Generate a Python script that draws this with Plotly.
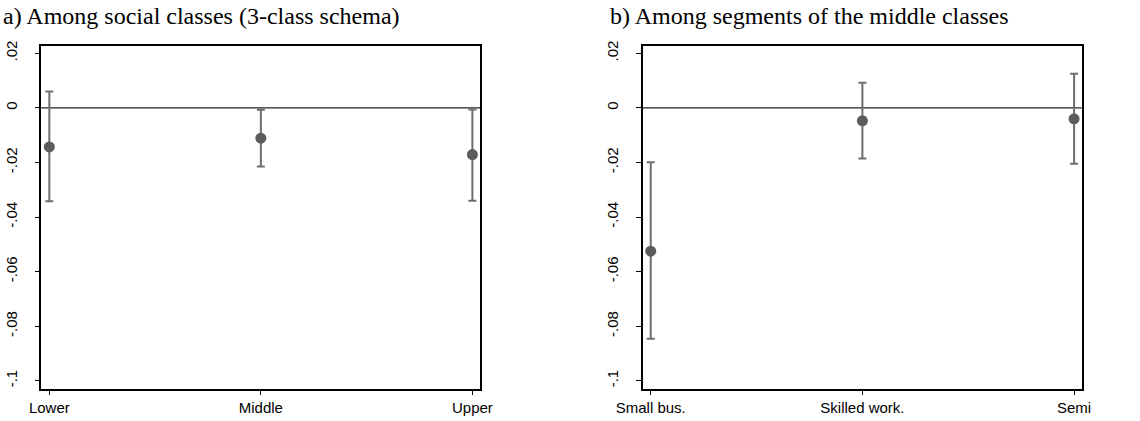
import plotly.graph_objects as go

# Panel a
cats_a = ["Lower", "Middle", "Upper"]
est_a = [-0.0143, -0.0111, -0.0171]
hi_a = [0.0060, -0.0007, -0.0006]
lo_a = [-0.0342, -0.0215, -0.0340]

# Panel b
cats_b = ["Small bus.", "Skilled work.", "Semi"]
est_b = [-0.0525, -0.0047, -0.0040]
hi_b = [-0.0199, 0.0092, 0.0125]
lo_b = [-0.0846, -0.0185, -0.0205]

title_a = "a) Among social classes (3-class schema)"
title_b = "b) Among segments of the middle classes"

yticks = [0.02, 0, -0.02, -0.04, -0.06, -0.08, -0.1]
yticktext = [".02", "0", "-.02", "-.04", "-.06", "-.08", "-.1"]

MARK = "#5c5c5c"
BAR = "#6e6e6e"

fig = go.Figure()

def add_panel(cats, est, hi, lo, xa, ya):
    xs = list(range(1, len(cats) + 1))
    fig.add_trace(go.Scatter(
        x=xs, y=est, mode="markers", xaxis=xa, yaxis=ya,
        marker=dict(color=MARK, size=11),
        error_y=dict(type="data", symmetric=False,
                     array=[h - e for h, e in zip(hi, est)],
                     arrayminus=[e - l for e, l in zip(est, lo)],
                     color=BAR, thickness=2, width=4),
        showlegend=False, hoverinfo="skip"))

add_panel(cats_a, est_a, hi_a, lo_a, "x", "y")
add_panel(cats_b, est_b, hi_b, lo_b, "x2", "y2")

W, H = 1140, 421
ydom = [1 - 388.7 / H, 1 - 45.7 / H]
tickfont = dict(family="Liberation Sans, Arial", size=15, color="black")

def xaxis(dom, cats):
    return dict(domain=dom, range=[0.962, 3.036], tickmode="array",
                tickvals=[1, 2, 3], ticktext=cats, showgrid=False, zeroline=False,
                showline=True, linecolor="black", linewidth=1.5, mirror=True,
                ticks="outside", ticklen=5, tickcolor="black", tickwidth=1,
                tickfont=tickfont, automargin=False)

def yaxis(anchor):
    return dict(domain=ydom, range=[-0.1029, 0.0228], tickmode="array",
                tickvals=yticks, ticktext=yticktext, showgrid=False, zeroline=False,
                showline=True, linecolor="black", linewidth=1.5, mirror=True,
                ticks="outside", ticklen=5, tickcolor="black", tickwidth=1,
                tickangle=-90, tickfont=tickfont, anchor=anchor, automargin=False,
                ticklabelstandoff=12)

fig.update_layout(
    width=W, height=H, margin=dict(l=0, r=0, t=0, b=0, autoexpand=False),
    paper_bgcolor="white", plot_bgcolor="white",
    xaxis=dict(xaxis([41.3 / W, 480 / W], cats_a), anchor="y"),
    yaxis=yaxis("x"),
    xaxis2=dict(xaxis([642.7 / W, 1081.7 / W], cats_b), anchor="y2"),
    yaxis2=yaxis("x2"),
    shapes=[
        dict(type="line", xref="x domain", yref="y", x0=0, x1=1, y0=0, y1=0,
             line=dict(color="#222", width=1.2), layer="below"),
        dict(type="line", xref="x2 domain", yref="y2", x0=0, x1=1, y0=0, y1=0,
             line=dict(color="#222", width=1.2), layer="below"),
    ],
    annotations=[
        dict(text=title_a, xref="paper", yref="paper", x=1 / W, y=1 - 1 / H,
             xanchor="left", yanchor="top", showarrow=False,
             font=dict(family="Liberation Serif, Times New Roman", size=24, color="black")),
        dict(text=title_b, xref="paper", yref="paper", x=608 / W, y=1 - 1 / H,
             xanchor="left", yanchor="top", showarrow=False,
             font=dict(family="Liberation Serif, Times New Roman", size=24, color="black")),
    ],
)

fig.write_html("out.html")
